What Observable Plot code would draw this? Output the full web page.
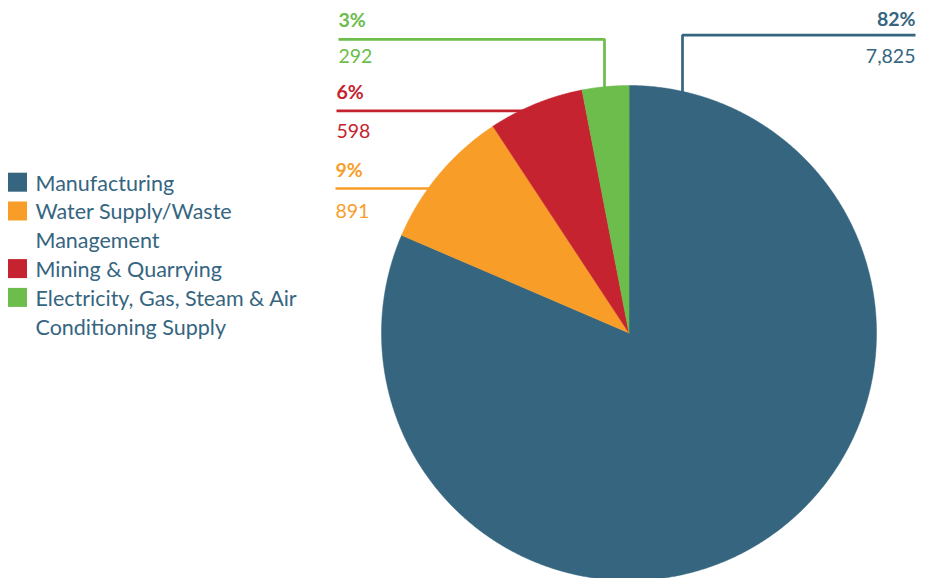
<!DOCTYPE html>
<html>
<head>
<meta charset="utf-8">
<script src="https://cdn.jsdelivr.net/npm/d3@7"></script>
<script src="https://cdn.jsdelivr.net/npm/@observablehq/plot@0.6"></script>
<style>
  html, body { margin: 0; padding: 0; background: #fff; }
  #chart svg { display: block; }
</style>
</head>
<body>
<div id="chart"></div>
<script>
// ---- data ----
const categories = [
  "Manufacturing",
  "Water Supply/Waste Management",
  "Mining & Quarrying",
  "Electricity, Gas, Steam & Air Conditioning Supply"
];
const values = [7825, 891, 598, 292];
const percents = [82, 9, 6, 3];
const legendLines = [
  ["Manufacturing"],
  ["Water Supply/Waste", "Management"],
  ["Mining & Quarrying"],
  ["Electricity, Gas, Steam & Air", "Conditioning Supply"]
];
const colors = ["#35657f", "#f89d27", "#c5232f", "#6cbd4b"];

// ---- layout ----
const W = 931, H = 578;
const cx = 628.5, cy = 332.5, r = 247.5;
const fs = 19.5;       // label font size
const lfs = 21.5;      // legend font size
const textColor = "#35657f";
const labelLayout = [
  {tx: 915, anchor: "end",   pctBase: 25,    valBase: 62,  lineY: 34.7,  elbowX: 682},
  {tx: 335, anchor: "start", pctBase: 176.5, valBase: 217, lineY: 188,   elbowX: null},
  {tx: 336, anchor: "start", pctBase: 98.5,  valBase: 137, lineY: 110.3, elbowX: null},
  {tx: 338, anchor: "start", pctBase: 26,    valBase: 62,  lineY: 38.8,  elbowX: 604}
];

// ---- pie geometry ----
const arcs = d3.pie().sort(null).value(d => d)(values);
const slicePts = [];
arcs.forEach((a, i) => {
  const cat = categories[i];
  slicePts.push({cat, x: cx, y: cy});
  const n = Math.max(4, Math.ceil((a.endAngle - a.startAngle) / 0.005));
  for (let k = 0; k <= n; k++) {
    const t = a.startAngle + (a.endAngle - a.startAngle) * k / n;
    slicePts.push({cat, x: cx + r * Math.sin(t), y: cy - r * Math.cos(t)});
  }
});

// leader lines
const leaderPts = [];
labelLayout.forEach((L, i) => {
  const cat = categories[i];
  if (L.elbowX != null) {
    const yEdge = cy - Math.sqrt(r * r - (L.elbowX - cx) ** 2) + 6;
    leaderPts.push({cat, x: L.tx, y: L.lineY});
    leaderPts.push({cat, x: L.elbowX, y: L.lineY});
    leaderPts.push({cat, x: L.elbowX, y: yEdge});
  } else {
    const xEdge = cx - Math.sqrt(r * r - (L.lineY - cy) ** 2) + 6;
    leaderPts.push({cat, x: L.tx, y: L.lineY});
    leaderPts.push({cat, x: xEdge, y: L.lineY});
  }
});

const pctLabels = categories.map((c, i) => ({cat: c, x: labelLayout[i].tx, y: labelLayout[i].pctBase - 0.71 * fs, text: percents[i] + "%", anchor: labelLayout[i].anchor}));
const valLabels = categories.map((c, i) => ({cat: c, x: labelLayout[i].tx, y: labelLayout[i].valBase - 0.71 * fs, text: d3.format(",")(values[i]), anchor: labelLayout[i].anchor}));

// legend (one text row per line)
const legendBase0 = 190, lh = 28.8;
const legendSwatches = [];
const legendText = [];
let line = 0;
categories.forEach((c, i) => {
  legendSwatches.push({cat: c, base: legendBase0 + line * lh});
  legendLines[i].forEach(t => {
    legendText.push({cat: c, y: legendBase0 + line * lh - 0.71 * lfs, text: t});
    line++;
  });
});

const chart = Plot.plot({
  width: W,
  height: H,
  margin: 0,
  x: {type: "identity", axis: null},
  y: {type: "identity", axis: null},
  color: {domain: categories, range: colors},
  style: {fontFamily: "Lato, 'Open Sans', sans-serif", background: "#fff"},
  marks: [
    Plot.line(leaderPts, {x: "x", y: "y", z: "cat", stroke: "cat", strokeWidth: 2.7, strokeLinejoin: "miter", strokeLinecap: "butt"}),
    Plot.line(slicePts, {x: "x", y: "y", z: "cat", fill: "cat", stroke: "cat", strokeWidth: 0.5, curve: "linear-closed"}),
    Plot.text(pctLabels.filter(d => d.anchor === "end"), {x: "x", y: "y", text: "text", fill: "cat", textAnchor: "end", lineAnchor: "top", fontSize: fs, fontWeight: "bold"}),
    Plot.text(pctLabels.filter(d => d.anchor === "start"), {x: "x", y: "y", text: "text", fill: "cat", textAnchor: "start", lineAnchor: "top", fontSize: fs, fontWeight: "bold"}),
    Plot.text(valLabels.filter(d => d.anchor === "end"), {x: "x", y: "y", text: "text", fill: "cat", textAnchor: "end", lineAnchor: "top", fontSize: fs}),
    Plot.text(valLabels.filter(d => d.anchor === "start"), {x: "x", y: "y", text: "text", fill: "cat", textAnchor: "start", lineAnchor: "top", fontSize: fs}),
    Plot.rect(legendSwatches, {x1: () => 8, x2: () => 27, y1: d => d.base - 17.3, y2: d => d.base + 1.7, fill: "cat"}),
    Plot.text(legendText, {x: () => 35, y: "y", text: "text", fill: textColor, textAnchor: "start", lineAnchor: "top", fontSize: lfs})
  ]
});
document.getElementById("chart").appendChild(chart);
</script>
</body>
</html>
